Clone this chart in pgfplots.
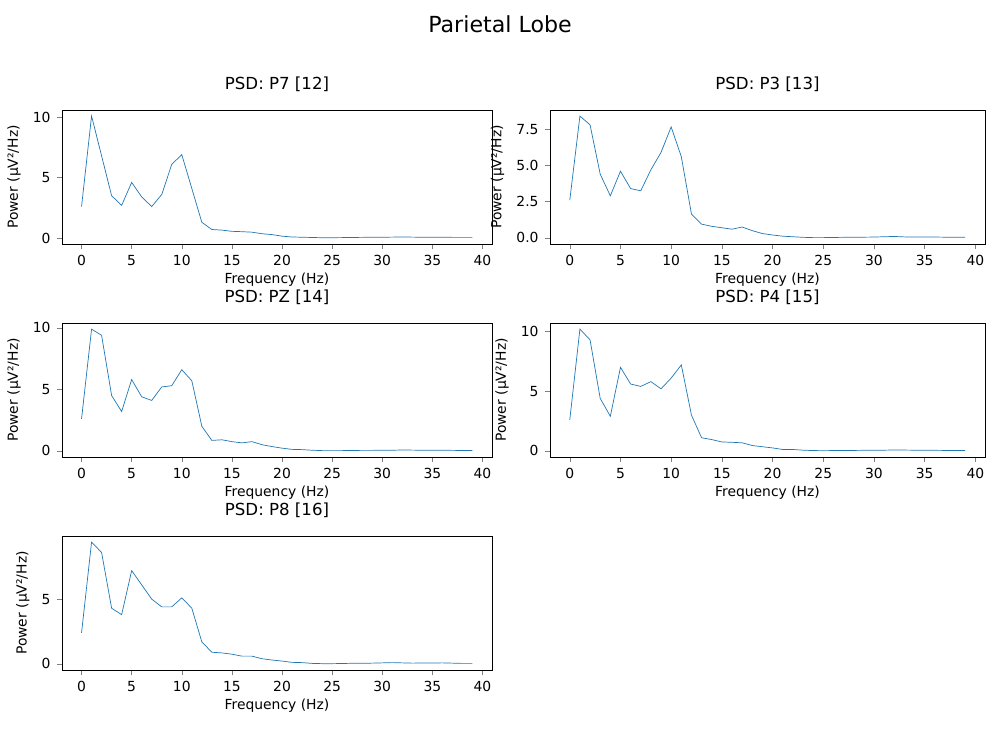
\documentclass[border=0pt]{standalone}
\usepackage{pgfplots}
\pgfplotsset{compat=1.18}
\usepackage{fontspec}
\setmainfont{DejaVu Sans}
\definecolor{mpl}{HTML}{1F77B4}
\pgfplotsset{
  psd/.style={scale only axis, anchor=south west, height=2.68cm,
    xmin=-1.95, xmax=40.95, xtick={0,5,...,40},
    tick label style={font=\fontsize{7.9}{9}\selectfont},
    label style={font=\fontsize{7.9}{9}\selectfont},
    title style={font=\fontsize{9.45}{11}\selectfont, at={(0.5,1)}, anchor=south, yshift=1pt},
    xlabel={Frequency (Hz)}, ylabel={Power (µV²/Hz)},
    tick align=outside, tick pos=left, major tick length=3pt,
    /pgf/number format/assume math mode=true,
    xlabel style={yshift=3pt}, ylabel style={yshift=0pt},
    cycle list={{color=mpl, line width=1pt, mark=none}}},
}
\begin{document}
\begin{tikzpicture}
\path (0,0) rectangle (20,15);
\node[font=\fontsize{12.6}{14}\selectfont] at (10,14.52) {Parietal Lobe};
\begin{axis}[psd, at={(1.24cm,10.12cm)}, width=8.6cm, ymin=-0.5, ymax=10.6, ytick={0,5,10}, title={PSD: P7 [12]}]
\addplot coordinates {(0,2.6)(1,10.1)(2,6.8)(3,3.5)(4,2.7)(5,4.6)(6,3.4)(7,2.6)(8,3.6)(9,6.1)(10,6.9)(11,4.1)(12,1.3)(13,0.7)(14,0.65)(15,0.55)(16,0.52)(17,0.48)(18,0.35)(19,0.28)(20,0.15)(21,0.08)(22,0.06)(23,0.04)(24,0.02)(25,0.02)(26,0.03)(27,0.04)(28,0.05)(29,0.06)(30,0.06)(31,0.07)(32,0.08)(33,0.07)(34,0.06)(35,0.06)(36,0.06)(37,0.05)(38,0.05)(39,0.05)};
\end{axis}
\begin{axis}[psd, at={(11.0cm,10.12cm)}, width=8.7cm, ymin=-0.42, ymax=8.82, ytick={0,2.5,5,7.5}, yticklabel style={/pgf/number format/.cd,fixed,fixed zerofill,precision=1}, title={PSD: P3 [13]}]
\addplot coordinates {(0,2.6)(1,8.4)(2,7.8)(3,4.4)(4,2.9)(5,4.6)(6,3.4)(7,3.25)(8,4.7)(9,5.9)(10,7.65)(11,5.6)(12,1.65)(13,0.95)(14,0.8)(15,0.7)(16,0.6)(17,0.75)(18,0.5)(19,0.3)(20,0.2)(21,0.12)(22,0.08)(23,0.04)(24,0.02)(25,0.02)(26,0.03)(27,0.04)(28,0.05)(29,0.05)(30,0.06)(31,0.08)(32,0.1)(33,0.07)(34,0.06)(35,0.06)(36,0.06)(37,0.05)(38,0.05)(39,0.05)};
\end{axis}
\begin{axis}[psd, at={(1.24cm,5.86cm)}, width=8.6cm, ymin=-0.5, ymax=10.4, ytick={0,5,10}, title={PSD: PZ [14]}]
\addplot coordinates {(0,2.6)(1,9.9)(2,9.4)(3,4.5)(4,3.2)(5,5.8)(6,4.4)(7,4.1)(8,5.2)(9,5.3)(10,6.6)(11,5.7)(12,2.0)(13,0.85)(14,0.9)(15,0.75)(16,0.65)(17,0.75)(18,0.5)(19,0.35)(20,0.22)(21,0.12)(22,0.1)(23,0.05)(24,0.02)(25,0.02)(26,0.02)(27,0.03)(28,0.04)(29,0.04)(30,0.05)(31,0.05)(32,0.07)(33,0.06)(34,0.05)(35,0.05)(36,0.05)(37,0.04)(38,0.03)(39,0.03)};
\end{axis}
\begin{axis}[psd, at={(11.0cm,5.86cm)}, width=8.7cm, ymin=-0.51, ymax=10.71, ytick={0,5,10}, title={PSD: P4 [15]}]
\addplot coordinates {(0,2.6)(1,10.2)(2,9.3)(3,4.4)(4,2.9)(5,7.0)(6,5.6)(7,5.4)(8,5.8)(9,5.2)(10,6.1)(11,7.2)(12,3.0)(13,1.1)(14,0.95)(15,0.75)(16,0.72)(17,0.68)(18,0.45)(19,0.35)(20,0.25)(21,0.12)(22,0.12)(23,0.06)(24,0.03)(25,0.02)(26,0.03)(27,0.04)(28,0.04)(29,0.05)(30,0.05)(31,0.06)(32,0.08)(33,0.07)(34,0.06)(35,0.06)(36,0.05)(37,0.04)(38,0.04)(39,0.04)};
\end{axis}
\begin{axis}[psd, at={(1.24cm,1.6cm)}, width=8.6cm, ymin=-0.47, ymax=9.87, ytick={0,5}, title={PSD: P8 [16]}]
\addplot coordinates {(0,2.4)(1,9.4)(2,8.6)(3,4.3)(4,3.8)(5,7.2)(6,6.1)(7,5.0)(8,4.4)(9,4.4)(10,5.1)(11,4.3)(12,1.7)(13,0.9)(14,0.85)(15,0.75)(16,0.6)(17,0.6)(18,0.4)(19,0.3)(20,0.22)(21,0.12)(22,0.1)(23,0.04)(24,0.02)(25,0.02)(26,0.03)(27,0.05)(28,0.05)(29,0.06)(30,0.08)(31,0.1)(32,0.08)(33,0.06)(34,0.07)(35,0.07)(36,0.08)(37,0.06)(38,0.04)(39,0.04)};
\end{axis}
\end{tikzpicture}
\end{document}
